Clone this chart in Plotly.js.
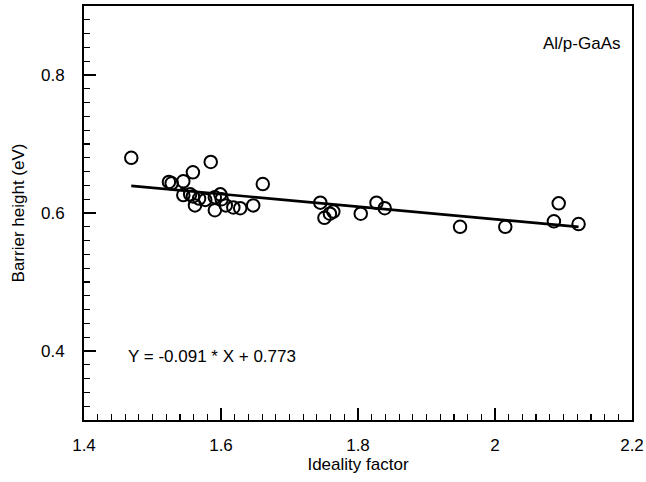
<!DOCTYPE html>
<html>
<head>
<meta charset="utf-8">
<script src="https://cdn.plot.ly/plotly-3.0.1.min.js"></script>
<style>
  html, body { margin: 0; padding: 0; background: #fff; }
  #chart { width: 646px; height: 482px; }
</style>
</head>
<body>
<div id="chart"></div>
<script>
// Measured Schottky diodes: ideality factor vs. barrier height
const idealityFactor = [
  1.469, 1.524, 1.528, 1.545, 1.559, 1.585, 1.545, 1.555, 1.559, 1.562,
  1.568, 1.577, 1.591, 1.599, 1.601, 1.591, 1.607, 1.618, 1.628, 1.647,
  1.661, 1.745, 1.751, 1.759, 1.764, 1.804, 1.827, 1.839, 1.949, 2.015,
  2.086, 2.093, 2.122
];
const barrierHeight = [
  0.680, 0.645, 0.643, 0.646, 0.659, 0.674, 0.626, 0.627, 0.624, 0.611,
  0.621, 0.619, 0.623, 0.627, 0.620, 0.604, 0.611, 0.608, 0.607, 0.611,
  0.642, 0.615, 0.593, 0.599, 0.602, 0.599, 0.615, 0.607, 0.580, 0.580,
  0.588, 0.614, 0.584
];

// Linear fit coefficients
const fitSlope = -0.091;
const fitIntercept = 0.773;

const xTickVals = [1.4, 1.6, 1.8, 2, 2.2];
const xTickText = ['1.4', '1.6', '1.8', '2', '2.2'];
const yTickVals = [0.4, 0.6, 0.8];
const yTickText = ['0.4', '0.6', '0.8'];

const sampleLabel = 'Al/p-GaAs';
const fitLabel = 'Y = -0.091 * X + 0.773';
const xTitle = 'Ideality factor';
const yTitle = 'Barrier height (eV)';

const FONT = 'Arial, "Liberation Sans", Helvetica, sans-serif';

const xMin = Math.min(...idealityFactor);
const xMax = Math.max(...idealityFactor);
const fitX = [xMin, xMax];
const fitY = fitX.map(v => fitSlope * v + fitIntercept);

const traces = [
  {
    x: fitX, y: fitY, type: 'scatter', mode: 'lines',
    line: { color: '#000', width: 2.6 },
    hoverinfo: 'skip', showlegend: false
  },
  {
    x: idealityFactor, y: barrierHeight, type: 'scatter', mode: 'markers',
    marker: { symbol: 'circle-open', size: 12.5, color: '#000', line: { color: '#000', width: 2 } },
    showlegend: false
  }
];

const axisCommon = {
  showline: true, linecolor: '#000', linewidth: 2, mirror: true,
  showgrid: false, zeroline: false,
  ticks: 'inside', ticklen: 12, tickwidth: 1.5, tickcolor: '#000',
  tickfont: { family: FONT, size: 17, color: '#000' },
  tickmode: 'array'
};

const layout = {
  width: 646, height: 482,
  margin: { l: 84, r: 14, t: 6, b: 62, pad: 0 },
  paper_bgcolor: '#fff', plot_bgcolor: '#fff',
  font: { family: FONT, size: 17, color: '#000' },
  showlegend: false,
  xaxis: Object.assign({}, axisCommon, {
    range: [1.4, 2.2],
    tickvals: xTickVals, ticktext: xTickText,
    ticklabelstandoff: 9,
    minor: { ticks: 'inside', ticklen: 6, tickwidth: 1.2, tickcolor: '#000', dtick: 0.02, tick0: 1.4, showgrid: false },
    title: { text: xTitle, font: { family: FONT, size: 17, color: '#000' }, standoff: 3 }
  }),
  yaxis: Object.assign({}, axisCommon, {
    range: [0.3, 0.9],
    tickvals: yTickVals, ticktext: yTickText,
    ticklabelstandoff: 14,
    minor: { ticks: 'inside', ticklen: 6, tickwidth: 1.2, tickcolor: '#000', dtick: 0.02, tick0: 0.3, showgrid: false },
    title: { text: yTitle, font: { family: FONT, size: 17, color: '#000' }, standoff: 12 }
  }),
  annotations: [
    {
      x: 1.462, y: 0.3916, xref: 'x', yref: 'y',
      xanchor: 'left', yanchor: 'middle', showarrow: false,
      text: fitLabel, font: { family: FONT, size: 17, color: '#000' }
    },
    {
      x: 2.067, y: 0.846, xref: 'x', yref: 'y',
      xanchor: 'left', yanchor: 'middle', showarrow: false,
      text: sampleLabel, font: { family: FONT, size: 17, color: '#000' }
    }
  ]
};

Plotly.newPlot('chart', traces, layout, { displayModeBar: false, staticPlot: true });
</script>
</body>
</html>
